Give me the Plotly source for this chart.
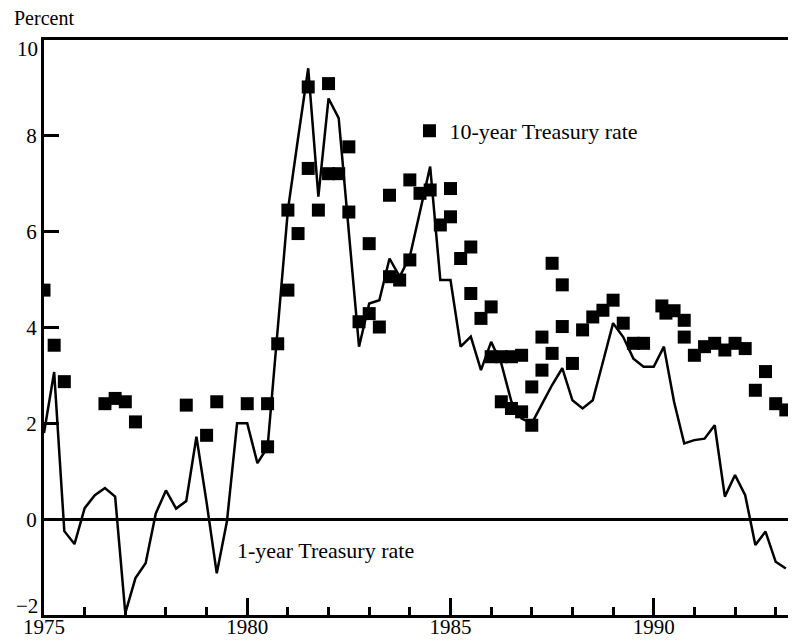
import plotly.graph_objects as go

# 1-year Treasury rate (quarterly, 1975Q1 .. 1993Q2)
one_year_dates = [1975 + q * 0.25 for q in range(74)]
one_year_vals = [
    1.8, 3.07, -0.25, -0.52,
    0.23, 0.5, 0.65, 0.47,
    -1.96, -1.23, -0.92, 0.12,
    0.6, 0.22, 0.38, 1.72,
    0.35, -1.13, -0.05, 2.0,
    2.0, 1.17, 1.5, 4.0,
    6.45, 7.95, 9.41, 6.73,
    8.78, 8.37, 6.0, 3.6,
    4.5, 4.57, 5.44, 5.06,
    5.48, 6.4, 7.36, 4.99,
    4.99, 3.6, 3.81, 3.11,
    3.7, 3.25, 2.45, 2.1,
    2.0, 2.4, 2.8, 3.15,
    2.48, 2.31, 2.48, 3.28,
    4.09, 3.8, 3.35, 3.18,
    3.18, 3.6, 2.45, 1.58,
    1.65, 1.68, 1.96, 0.47,
    0.92, 0.5, -0.54, -0.26,
    -0.89, -1.03,
]

# 10-year Treasury rate (squares)
ten_year_dates = [
    1975.0, 1975.25, 1975.5,
    1976.5, 1976.75, 1977.0, 1977.25,
    1978.5, 1979.0, 1979.25, 1980.0, 1980.5, 1980.5, 1980.75,
    1981.0, 1981.0, 1981.25, 1981.5, 1981.5, 1981.75,
    1982.0, 1982.0, 1982.25, 1982.5, 1982.5, 1982.75,
    1983.0, 1983.0, 1983.25, 1983.5, 1983.5, 1983.75,
    1984.0, 1984.0, 1984.25, 1984.5, 1984.75,
    1985.0, 1985.0, 1985.25, 1985.5, 1985.5, 1985.75,
    1986.0, 1986.0, 1986.25, 1986.5, 1986.75,
    1986.25, 1986.5, 1986.75,
    1987.0, 1987.0, 1987.25, 1987.25, 1987.5, 1987.5, 1987.75, 1987.75,
    1988.0, 1988.25, 1988.5, 1988.75,
    1989.0, 1989.25, 1989.5, 1989.75,
    1990.2, 1990.3, 1990.5, 1990.75, 1990.75,
    1991.0, 1991.25, 1991.5, 1991.75,
    1992.0, 1992.25, 1992.5, 1992.75,
    1993.0, 1993.25,
]
ten_year_vals = [
    4.78, 3.63, 2.87,
    2.41, 2.52, 2.45, 2.03,
    2.38, 1.75, 2.45, 2.41, 2.41, 1.51, 3.66,
    4.78, 6.45, 5.96, 9.02, 7.32, 6.45,
    9.09, 7.21, 7.21, 7.77, 6.41, 4.12,
    4.29, 5.75, 4.01, 6.76, 5.06, 4.99,
    5.41, 7.08, 6.8, 6.87, 6.14,
    6.31, 6.9, 5.44, 5.68, 4.71, 4.19,
    4.43, 3.39, 3.39, 3.39, 3.42,
    2.45, 2.31, 2.24,
    2.76, 1.96, 3.11, 3.8, 3.46, 5.34, 4.89, 4.02,
    3.25, 3.95, 4.22, 4.36,
    4.57, 4.09, 3.67, 3.67,
    4.45, 4.3, 4.35, 4.15, 3.8,
    3.42, 3.6, 3.67, 3.53,
    3.67, 3.56, 2.69, 3.08,
    2.41, 2.28,
]

x_tick_vals = [1975, 1980, 1985, 1990]
x_tick_text = ["1975", "1980", "1985", "1990"]
y_tick_vals = [0, 2, 4, 6, 8]
y_tick_text = ["0", "2", "4", "6", "8"]
y_edge_vals = [10, -2]
y_edge_text = ["10", "\u22122"]

FONT = "Liberation Serif, Times New Roman, serif"

fig = go.Figure()
fig.add_trace(go.Scatter(
    x=one_year_dates, y=one_year_vals, mode="lines",
    line=dict(color="black", width=2.5),
    showlegend=False, name="1-year Treasury rate",
))
fig.add_trace(go.Scatter(
    x=ten_year_dates, y=ten_year_vals, mode="markers",
    marker=dict(symbol="square", size=13, color="black"),
    name="10-year Treasury rate", showlegend=True,
))

annotations = [
    dict(text="Percent", xref="paper", yref="paper",
         x=-0.043, y=1.038, xanchor="left", yanchor="middle",
         showarrow=False, font=dict(family=FONT, size=20)),
    dict(text="1-year Treasury rate", xref="x", yref="y",
         x=1979.7, y=-0.65, xanchor="left", yanchor="middle",
         showarrow=False, font=dict(family=FONT, size=22)),
]
for v, t in zip(y_edge_vals, y_edge_text):
    annotations.append(dict(
        text=t, xref="paper", yref="y", x=0, y=v,
        xanchor="right", yanchor="middle", xshift=-4,
        yshift=-9 if v > 0 else 9,
        showarrow=False, font=dict(family=FONT, size=21),
    ))

fig.update_layout(
    width=788, height=632,
    margin=dict(l=36, r=0, t=32, b=25),
    paper_bgcolor="white", plot_bgcolor="white",
    font=dict(family=FONT, size=20, color="black"),
    legend=dict(
        x=0.486, y=0.842, xanchor="left", yanchor="middle",
        bgcolor="rgba(0,0,0,0)", borderwidth=0,
        font=dict(family=FONT, size=22, color="black"),
        itemwidth=30,
    ),
    xaxis=dict(
        range=[1975, 1993.5], showgrid=False, zeroline=False,
        automargin=False,
        showline=True, linecolor="black", linewidth=3, mirror=True,
        tickmode="array", tickvals=x_tick_vals, ticktext=x_tick_text,
        ticks="inside", ticklen=17, tickwidth=3, tickcolor="black",
        ticklabelstandoff=-9,
        minor=dict(dtick=1, tick0=1975, ticks="inside", ticklen=8,
                   tickwidth=3, tickcolor="black", showgrid=False),
        tickfont=dict(family=FONT, size=21),
    ),
    yaxis=dict(
        range=[-2, 10], showgrid=False,
        automargin=False,
        zeroline=True, zerolinecolor="black", zerolinewidth=3,
        showline=True, linecolor="black", linewidth=3,
        tickmode="array", tickvals=y_tick_vals, ticktext=y_tick_text,
        ticks="inside", ticklen=15, tickwidth=3, tickcolor="black",
        tickfont=dict(family=FONT, size=21),
    ),
    annotations=annotations,
)

fig.write_html("out.html")
